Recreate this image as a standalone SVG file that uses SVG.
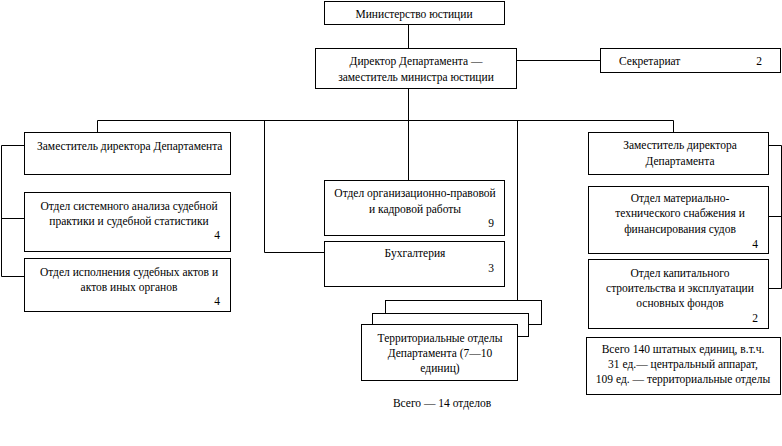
<svg xmlns="http://www.w3.org/2000/svg" width="782" height="446" viewBox="0 0 782 446" font-family="'Liberation Serif', 'DejaVu Serif', serif">
<style>
rect{fill:#fff;stroke:#000;stroke-width:1}
.c{fill:none;stroke:#000;stroke-width:1}
text{font-family:'Liberation Serif','DejaVu Serif',serif;font-size:11.5px;fill:#000}
.m{text-anchor:middle}
.e{text-anchor:end}
</style>
<rect width="782" height="446" style="stroke:none"/>
<g id="connectors">
<path class="c" d="M408.5 24.5V48.5M516 60.5H600M408.5 88.5V180M97.5 120.5H673.5M97.5 120.5V132M673.5 120.5V132M264.5 120.5V252.5H324M517.5 120.5V300M24 145.5H1.5V276.5H24M1.5 218.5H24M768 145.5H781.5V288.5H768M768 216.5H781.5"/>
</g>
<g id="n-ministry"><rect x="324.5" y="1.5" width="180" height="23"/><text class="m" x="414" y="18">Министерство юстиции</text></g>
<g id="n-director"><rect x="315.5" y="48.5" width="201" height="40"/><text class="m" x="416" y="65">Директор Департамента —</text><text class="m" x="416" y="81">заместитель министра юстиции</text></g>
<g id="n-secretariat"><rect x="600.5" y="48.5" width="180" height="24"/><text x="619" y="65">Секретариат</text><text class="e" x="762" y="65">2</text></g>
<g id="n-deputy-left"><rect x="24.5" y="132.5" width="206" height="42"/><text x="37" y="150">Заместитель директора Департамента</text></g>
<g id="n-analysis"><rect x="24.5" y="192.5" width="206" height="59"/><text class="m" x="129" y="210">Отдел системного анализа судебной</text><text class="m" x="129" y="225">практики и судебной статистики</text><text class="e" x="220" y="239">4</text></g>
<g id="n-execution"><rect x="24.5" y="258.5" width="206" height="53"/><text class="m" x="129" y="276">Отдел исполнения судебных актов и</text><text class="m" x="129" y="291">актов иных органов</text><text class="e" x="220" y="305">4</text></g>
<g id="n-orglegal"><rect x="324.5" y="180.5" width="180" height="55"/><text class="m" x="415" y="197">Отдел организационно-правовой</text><text class="m" x="415" y="213">и кадровой работы</text><text class="e" x="494" y="227">9</text></g>
<g id="n-accounting"><rect x="324.5" y="241.5" width="180" height="45"/><text class="m" x="415" y="257">Бухгалтерия</text><text class="e" x="494" y="272">3</text></g>
<g id="n-territorial"><rect x="385.5" y="300.5" width="156" height="24"/><rect x="372.5" y="313.5" width="156" height="23"/><rect x="361.5" y="324.5" width="156" height="56"/><text class="m" x="440" y="342">Территориальные отделы</text><text class="m" x="440" y="357">Департамента (7—10</text><text class="m" x="440" y="372">единиц)</text></g>
<g id="n-total14"><text class="m" x="442" y="407">Всего — 14 отделов</text></g>
<g id="n-deputy-right"><rect x="588.5" y="132.5" width="180" height="42"/><text class="m" x="680" y="149">Заместитель директора</text><text class="m" x="680" y="165">Департамента</text></g>
<g id="n-material"><rect x="588.5" y="186.5" width="180" height="67"/><text class="m" x="680" y="202">Отдел материально-</text><text class="m" x="680" y="217">технического снабжения и</text><text class="m" x="680" y="233">финансирования судов</text><text class="e" x="758" y="248">4</text></g>
<g id="n-capital"><rect x="588.5" y="259.5" width="180" height="69"/><text class="m" x="680" y="277">Отдел капитального</text><text class="m" x="680" y="292">строительства и эксплуатации</text><text class="m" x="680" y="307">основных фондов</text><text class="e" x="758" y="322">2</text></g>
<g id="n-total140"><rect x="586.5" y="337.5" width="194" height="57"/><text class="m" x="683" y="353">Всего 140 штатных единиц, в.т.ч.</text><text class="m" x="683" y="368">31 ед.— центральный аппарат,</text><text class="m" x="683" y="383">109 ед. — территориальные отделы</text></g>
</svg>
